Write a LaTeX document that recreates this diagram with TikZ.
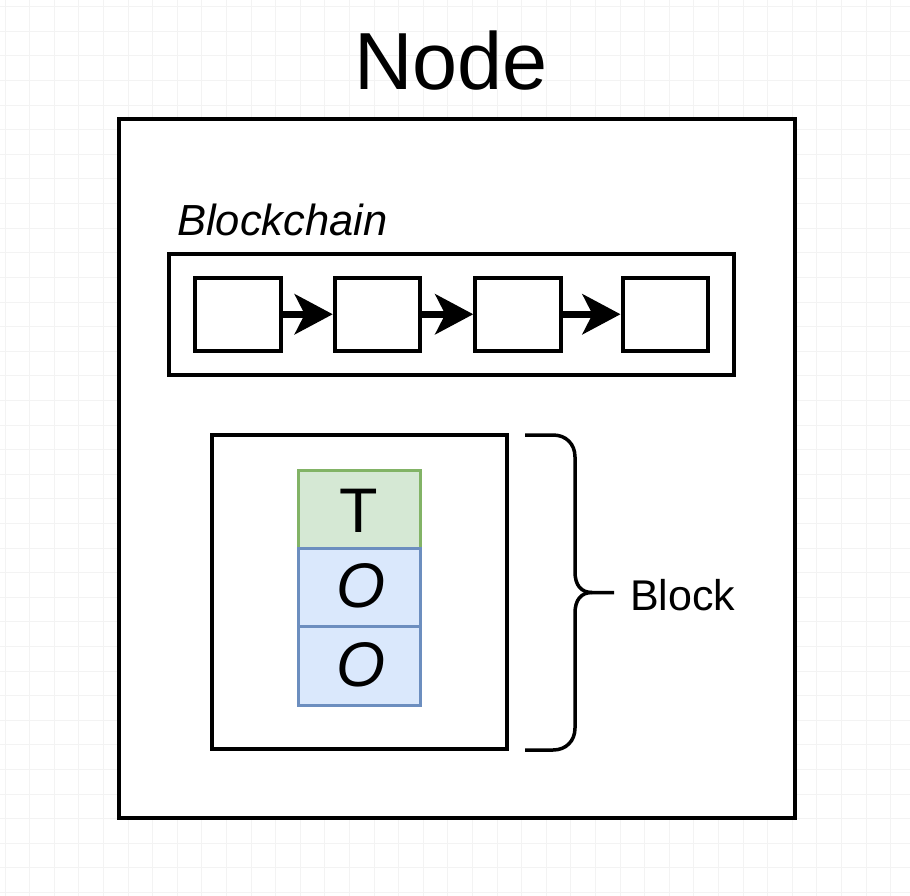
\documentclass[tikz,border=0pt]{standalone}
\usepackage{fontspec}
\setmainfont{Liberation Sans}
\usetikzlibrary{arrows.meta}
\definecolor{gridc}{HTML}{F3F3F3}
\definecolor{tfill}{HTML}{D5E8D4}
\definecolor{tline}{HTML}{82B366}
\definecolor{ofill}{HTML}{DAE8FC}
\definecolor{oline}{HTML}{6C8EBF}
\begin{document}
\begin{tikzpicture}[x=1pt,y=-1pt,
  frame/.style={draw=black,line width=4pt,rectangle,inner sep=0pt,fill=white},
  blockbox/.style={frame,minimum width=85.5pt,minimum height=72.5pt},
  link/.style={line width=6.5pt,-{Stealth[length=38pt,width=40pt,inset=10pt]}},
  cellT/.style={draw=tline,fill=tfill,line width=3pt,rectangle,inner sep=0pt,minimum width=122pt,minimum height=78.5pt},
  cellO/.style={draw=oline,fill=ofill,line width=3pt,rectangle,inner sep=0pt,minimum width=122pt,minimum height=78.5pt},
  lbl/.style={inner sep=0pt,text=black}
]
\useasboundingbox (0,0) rectangle (910,896);
\fill[white] (0,0) rectangle (910,896);
% faint grid
\foreach \i in {0,...,37} {
  \draw[gridc,line width=1pt] ({5+\i*24.6},0) -- ({5+\i*24.6},896);
}
\foreach \j in {0,...,37} {
  \draw[gridc,line width=1pt] (0,{6.8+\j*24.6}) -- (910,{6.8+\j*24.6});
}
% title
\node[lbl,anchor=base] (title) at (451,90) {\fontsize{81}{90}\selectfont Node};
% outer frame
\node[frame,minimum width=676pt,minimum height=699pt] (outer) at (457,468.5) {};
% blockchain
\node[lbl,anchor=base west] (bclabel) at (177,235) {\fontsize{43.5}{48}\selectfont\itshape Blockchain};
\node[frame,minimum width=565.5pt,minimum height=121pt] (chain) at (451.25,314.5) {};
\node[blockbox] (b1) at (237.75,314.25) {};
\node[blockbox] (b2) at (377.5,314.25) {};
\node[blockbox] (b3) at (518,314.25) {};
\node[blockbox] (b4) at (665.25,314.25) {};
\draw[link] (b1.east) -- (b2.west);
\draw[link] (b2.east) -- (b3.west);
\draw[link] (b3.east) -- (b4.west);
% block
\node[frame,line width=3.5pt,minimum width=295pt,minimum height=314pt] (block) at (359.5,592) {};
\node[cellT] (t) at (359,509.25) {};
\node[cellO] (o1) at (359,587.75) {};
\node[cellO] (o2) at (359,666) {};
\node[lbl,anchor=base] (ttext) at (359,532) {\fontsize{63}{70}\selectfont T};
\node[lbl,anchor=base] (o1text) at (361,607) {\fontsize{63}{70}\selectfont\itshape O};
\node[lbl,anchor=base] (o2text) at (361,686) {\fontsize{63}{70}\selectfont\itshape O};
% brace
\coordinate (btop) at (525,435);
\coordinate (bbot) at (525,750);
\coordinate (btip) at (614,592.5);
\draw[line width=3.5pt,line cap=butt]
  (btop) -- (553,435) .. controls (566,435) and (575,444) .. (575,457)
  -- (575,572) .. controls (575,585) and (581,592.5) .. (592,592.5) -- (btip);
\draw[line width=3.5pt]
  (592,592.5) .. controls (581,592.5) and (575,600) .. (575,613)
  -- (575,728) .. controls (575,741) and (566,750) .. (553,750) -- (bbot);
\node[lbl,anchor=base west] (blocklabel) at (630,610) {\fontsize{43}{48}\selectfont Block};
\end{tikzpicture}
\end{document}
